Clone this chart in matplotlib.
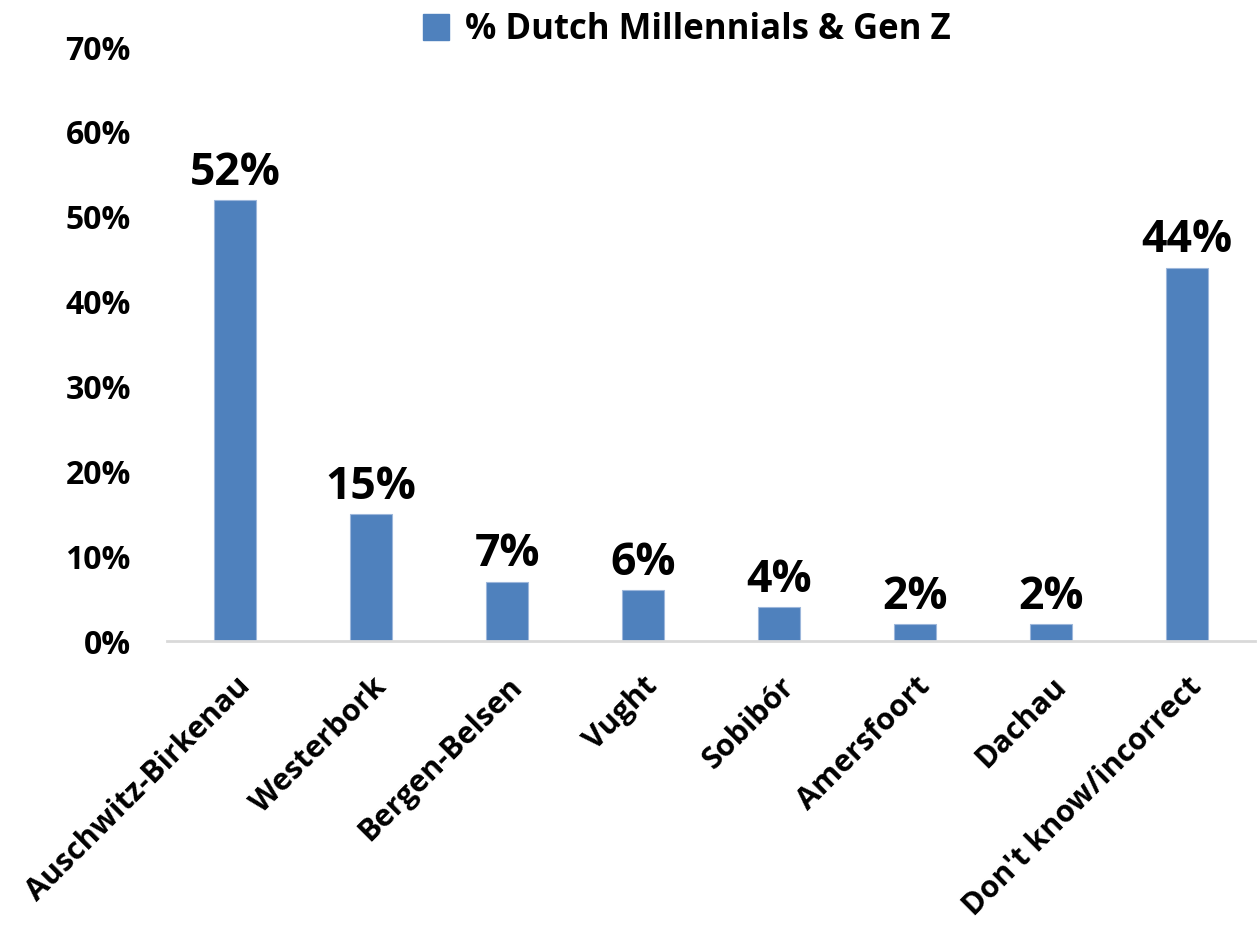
import matplotlib
matplotlib.use("Agg")
import matplotlib.pyplot as plt
from matplotlib.ticker import FuncFormatter
from matplotlib.patches import Patch

categories = ["Auschwitz-Birkenau", "Westerbork", "Bergen-Belsen", "Vught",
              "Sobibór", "Amersfoort", "Dachau", "Don't know/incorrect"]
values = [0.52, 0.15, 0.07, 0.06, 0.04, 0.02, 0.02, 0.44]
series_name = "% Dutch Millennials & Gen Z"
yticks = [0, 0.1, 0.2, 0.3, 0.4, 0.5, 0.6, 0.7]

plt.rcParams['font.family'] = ['Open Sans', 'DejaVu Sans']
plt.rcParams['font.weight'] = 'bold'

fig = plt.figure(figsize=(12.57, 9.27), dpi=100)
ax = fig.add_axes([167/1257, 1-641/927, (1255-167)/1257, (641-47)/927])

x = list(range(len(categories)))
bars = ax.bar(x, values, width=0.315, color="#4F81BD", edgecolor="#9DB7DB", linewidth=0.8)

for xi, v in zip(x, values):
    ax.annotate(f"{v*100:.0f}%", (xi, v), xytext=(0, 3), textcoords="offset points",
                ha="center", va="bottom", fontsize=32, fontweight="bold")

ax.set_xlim(-0.5, len(categories) - 0.5)
ax.set_ylim(0, 0.7)
ax.set_yticks(yticks)
ax.yaxis.set_major_formatter(FuncFormatter(lambda v, p: f"{v*100:.0f}%"))
ax.set_xticks(x)
ax.set_xticklabels(categories, rotation=45, ha="right", rotation_mode="anchor")
ax.tick_params(axis="y", length=0, pad=26, labelsize=23)
ax.tick_params(axis="x", length=0, pad=22, labelsize=22)
for lab in ax.get_yticklabels() + ax.get_xticklabels():
    lab.set_fontweight("bold")

for s in ["top", "right", "left"]:
    ax.spines[s].set_visible(False)
ax.spines["bottom"].set_color("#D9D9D9")
ax.spines["bottom"].set_linewidth(2)

handles = [Patch(facecolor="#4F81BD", edgecolor="#4F81BD", label=series_name)]
fig.legend(handles=handles, loc="center", bbox_to_anchor=(687/1257, 1-30/927),
           frameon=False, prop={"size": 25, "weight": "bold"},
           handlelength=0.75, handleheight=0.75, handletextpad=0.45)

fig.savefig("out.png", dpi=100)
